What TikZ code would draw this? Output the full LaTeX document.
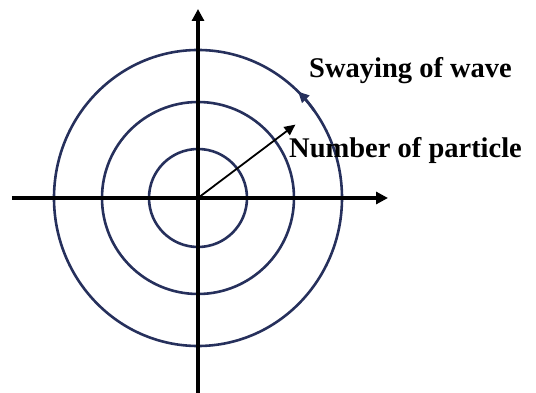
\documentclass[tikz,border=0pt]{standalone}
\usepackage{fontspec}
\setmainfont{Liberation Serif}
\usetikzlibrary{arrows.meta}
\definecolor{wavenavy}{RGB}{38, 48, 92}
\tikzset{
  axis/.style={line width=3.4pt, black, -{Triangle[length=12pt, width=12pt]}},
  ring/.style={line width=2.6pt, wavenavy},
  radius/.style={line width=1.8pt, black, -{Triangle[length=11pt, width=10pt]}},
  lbl/.style={font=\fontsize{28.5}{31}\selectfont\bfseries, text=black, inner sep=0pt}
}

\begin{document}
\begin{tikzpicture}[x=1pt, y=1pt]

% Frame
\useasboundingbox (-198,-195) rectangle (338,198);

% Centre and axis ends
\coordinate (origin) at (0,0);
\coordinate (xleft) at (-186,0);
\coordinate (xright) at (190,0);
\coordinate (ybottom) at (0,-195);
\coordinate (ytop) at (0,189);

% Rings
\draw[ring] (origin) circle (49);
\draw[ring] (origin) circle (96);
\draw[ring] (origin) ellipse [x radius=144, y radius=148];

% Axes
\draw[axis] (xleft) -- (xright);
\draw[axis] (ybottom) -- (ytop);

% Swaying direction on outer ring
\draw[ring, -{Triangle[length=11pt, width=10pt]}] (origin) ++(36:144 and 148) arc [start angle=36, end angle=46, x radius=144, y radius=148];

% Radial arrow
\coordinate (rtip) at (37:122);
\draw[radius] (origin) -- (rtip);

% Labels
\node[lbl, anchor=base west] (sway) at (111,120) {Swaying of wave};
\node[lbl, anchor=base west] (count) at (91,40) {Number of particle};

\end{tikzpicture}
\end{document}
